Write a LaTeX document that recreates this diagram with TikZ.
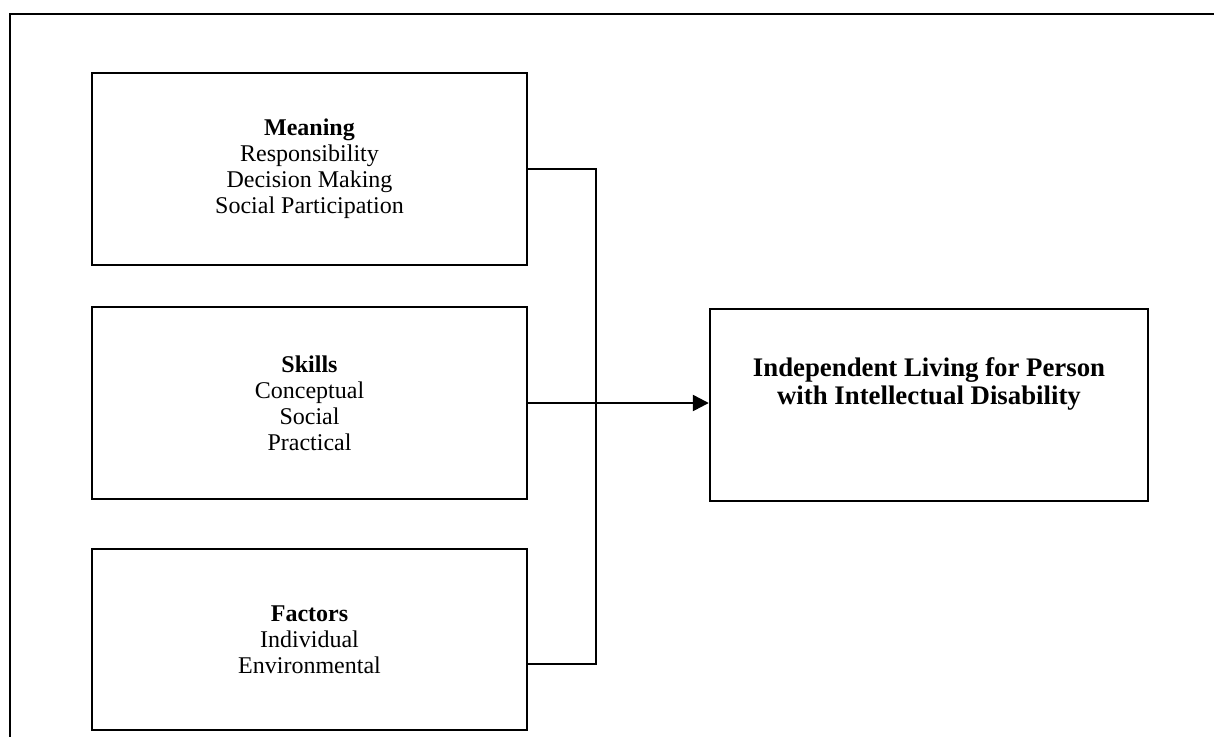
\documentclass[tikz,border=0pt]{standalone}
\usepackage{fontspec}
\setmainfont{Liberation Serif}
\usetikzlibrary{arrows.meta}
\begin{document}
\begin{tikzpicture}[x=1pt,y=-1pt,
  box/.style={draw=black,line width=2.4pt,minimum width=435pt,inner sep=0pt,
    align=center,font=\fontsize{24}{26}\selectfont},
  link/.style={draw=black,line width=2.4pt},
  txt/.style={align=center,font=\fontsize{26.8}{27.5}\selectfont\bfseries}]
\useasboundingbox (0,0) rectangle (1214,736);
\fill[white] (0,0) rectangle (1214,736);
% outer frame, running past the page on the right and bottom
\begin{scope}
  \clip (0,0) rectangle (1214,736);
  \draw[line width=2.4pt] (10,760) -- (10,14) -- (1240,14);
\end{scope}
% the three source boxes
\node[box,minimum height=192pt] (meaning) at (309.5,169)
  {\textbf{Meaning}\\Responsibility\\Decision Making\\Social Participation};
\node[box,minimum height=192pt] (skills) at (309.5,403)
  {\textbf{Skills}\\Conceptual\\Social\\Practical};
\node[box,minimum height=181pt] (factors) at (309.5,639.5)
  {\textbf{Factors}\\Individual\\Environmental};
% target box
\node[draw=black,line width=2.4pt,minimum width=438pt,minimum height=192pt,inner sep=0pt]
  (goal) at (929,405) {};
\node[txt] (goaltext) at (929,384)
  {Independent Living for Person\\with Intellectual Disability};
% joining bus
\coordinate (bb) at (596,664);
\draw[link] (meaning.east) -| (bb) -- (bb -| factors.east);
\draw[link,-{Triangle[length=16pt,width=16pt]}] (skills.east) -- (skills.east -| goal.west);
\end{tikzpicture}
\end{document}
